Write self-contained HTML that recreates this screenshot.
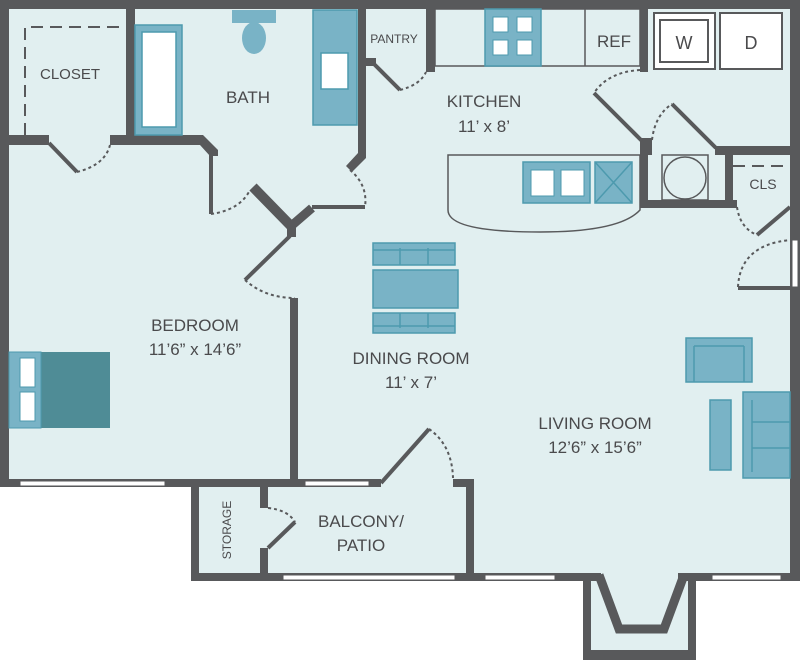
<!DOCTYPE html>
<html><head><meta charset="utf-8"><style>
html,body{margin:0;padding:0;background:#fff;width:800px;height:660px;overflow:hidden}
text{font-family:"Liberation Sans",sans-serif;fill:#4a4a4c}
</style></head><body>
<svg width="800" height="660" viewBox="0 0 800 660" xmlns="http://www.w3.org/2000/svg">
<polygon points="0,0 800,0 800,580 696,580 696,660 583,660 583,580 191,580 191,487 0,487" fill="#e1eff0"/>
<g fill="#58595b">
<rect x="0" y="0" width="800" height="9"/>
<rect x="0" y="0" width="9" height="487"/>
<rect x="790" y="0" width="10" height="581"/>
<rect x="0" y="479" width="297" height="8"/>
<rect x="191" y="479" width="8" height="102"/>
<rect x="191" y="573" width="410" height="8"/>
<rect x="678" y="573" width="122" height="8"/>
<rect x="583" y="573" width="8" height="87"/>
<rect x="688" y="573" width="8" height="87"/>
<rect x="583" y="650" width="113" height="10"/>
<rect x="126" y="0" width="9" height="140"/>
<rect x="0" y="135" width="49" height="10"/>
<polygon points="110,135 203,135 218,150 218,156 210,156 200,145 110,145"/>
<rect x="358" y="0" width="8" height="158"/>
<polygon points="358,153 366,158 352,172 346,166"/>
<rect x="260" y="487" width="8" height="21"/>
<rect x="260" y="548" width="8" height="25"/>
<rect x="290" y="298" width="8" height="183"/>
<rect x="287" y="222" width="9" height="15"/>
<rect x="297" y="479" width="84" height="8"/>
<rect x="453" y="479" width="21" height="8"/>
<rect x="466" y="479" width="8" height="102"/>
<rect x="426" y="0" width="9" height="72"/>
<rect x="640" y="0" width="8" height="72"/>
<rect x="640" y="138" width="12" height="17"/>
<rect x="640" y="148" width="8" height="60"/>
<rect x="640" y="200" width="97" height="8"/>
<rect x="725" y="148" width="8" height="60"/>
<rect x="715" y="146" width="80" height="9"/>
<rect x="362" y="58" width="14" height="8"/>
</g>
<path d="M599,575 L619,629 H664 L684,575" fill="none" stroke="#58595b" stroke-width="9" stroke-linejoin="miter"/>
<g stroke="#58595b" fill="none">
<line x1="253" y1="187" x2="292" y2="227" stroke-width="10"/>
<line x1="290" y1="227" x2="312" y2="208" stroke-width="9"/>
<line x1="312" y1="207" x2="365" y2="207" stroke-width="4"/>
<line x1="211" y1="150" x2="211" y2="214" stroke-width="4"/>
<line x1="290" y1="236" x2="245" y2="280" stroke-width="4"/>
<line x1="49" y1="143" x2="77" y2="172" stroke-width="4"/>
<line x1="374" y1="64" x2="400" y2="90" stroke-width="4"/>
<line x1="594" y1="93" x2="642" y2="141" stroke-width="4"/>
<line x1="672" y1="104" x2="716" y2="148" stroke-width="4"/>
<line x1="790" y1="207" x2="757" y2="235" stroke-width="4"/>
<line x1="738" y1="288" x2="790" y2="288" stroke-width="4"/>
<line x1="268" y1="548" x2="295" y2="522" stroke-width="4"/>
<line x1="381" y1="483" x2="429" y2="429" stroke-width="4"/>
</g>
<g stroke="#58595b" stroke-width="2" fill="none" stroke-dasharray="3,3">
<path d="M77,172 Q105,165 110,145"/>
<path d="M211,214 Q240,210 250,190"/>
<path d="M350,170 Q368,185 365,207"/>
<path d="M245,280 Q265,298 295,298"/>
<path d="M400,90 Q420,85 426,72"/>
<path d="M640,70 Q608,72 594,93"/>
<path d="M652,140 Q655,115 672,104"/>
<path d="M737,207 Q740,228 757,235"/>
<path d="M738,287 Q740,245 790,240"/>
<path d="M268,508 Q288,510 295,522"/>
<path d="M429,429 Q452,445 453,478"/>
</g>
<g stroke="#58595b" stroke-width="2" fill="none" stroke-dasharray="12,7">
<path d="M25,135 V27 H126"/>
<path d="M733,166 H790"/>
</g>
<g fill="#fff" stroke="#58595b" stroke-width="1">
<rect x="20" y="481" width="145" height="5"/>
<rect x="305" y="481" width="64" height="5"/>
<rect x="283" y="575" width="172" height="5"/>
<rect x="485" y="575" width="70" height="5"/>
<rect x="712" y="575" width="69" height="5"/>
<rect x="792" y="240" width="6" height="47"/>
</g>
<rect x="435" y="9" width="205" height="57" fill="none" stroke="#58595b" stroke-width="1.5"/>
<line x1="585" y1="9" x2="585" y2="66" stroke="#58595b" stroke-width="1.5"/>
<rect x="485" y="9" width="56" height="57" fill="#79b3c6" stroke="#4d9aae" stroke-width="1.5"/>
<g fill="#fff" stroke="#4d9aae"><rect x="493" y="17" width="15" height="15"/><rect x="517" y="17" width="15" height="15"/><rect x="493" y="40" width="15" height="15"/><rect x="517" y="40" width="15" height="15"/></g>
<rect x="654" y="13" width="61" height="56" fill="#fff" stroke="#58595b" stroke-width="2"/>
<rect x="660" y="20" width="48" height="42" fill="#fff" stroke="#58595b" stroke-width="2"/>
<rect x="720" y="13" width="62" height="56" fill="#fff" stroke="#58595b" stroke-width="2"/>
<rect x="662" y="155" width="46" height="45" fill="none" stroke="#58595b" stroke-width="1.5"/>
<circle cx="685" cy="178" r="21" fill="none" stroke="#58595b" stroke-width="1.5"/>
<path d="M448,155 H640 V210 Q620,232 540,232 Q448,232 448,210 Z" fill="none" stroke="#58595b" stroke-width="1.5"/>
<rect x="523" y="162" width="67" height="41" fill="#79b3c6" stroke="#4d9aae" stroke-width="1.5"/>
<rect x="531" y="170" width="23" height="26" fill="#fff" stroke="#4d9aae"/>
<rect x="561" y="170" width="23" height="26" fill="#fff" stroke="#4d9aae"/>
<rect x="595" y="162" width="37" height="41" fill="#79b3c6" stroke="#4d9aae" stroke-width="1.5"/>
<path d="M595,162 L632,203 M632,162 L595,203" stroke="#4d9aae" stroke-width="1.5"/>
<rect x="135" y="25" width="47" height="110" fill="#79b3c6" stroke="#4d9aae" stroke-width="1.5"/>
<rect x="142" y="32" width="34" height="95" fill="#fff" stroke="#4d9aae" stroke-width="1.5"/>
<rect x="232" y="10" width="44" height="13" fill="#79b3c6"/>
<ellipse cx="254" cy="38" rx="12" ry="16" fill="#79b3c6"/>
<rect x="313" y="10" width="44" height="115" fill="#79b3c6" stroke="#4d9aae" stroke-width="1.5"/>
<rect x="321" y="53" width="27" height="36" fill="#fff" stroke="#4d9aae" stroke-width="1.5"/>
<rect x="9" y="352" width="101" height="76" fill="#4f8c96"/>
<rect x="9" y="352" width="32" height="76" fill="#79b3c6" stroke="#4d9aae"/>
<rect x="20" y="358" width="15" height="29" fill="#fff" stroke="#4d9aae"/>
<rect x="20" y="392" width="15" height="29" fill="#fff" stroke="#4d9aae"/>
<g fill="#79b3c6" stroke="#4d9aae" stroke-width="1.5">
<rect x="373" y="243" width="82" height="22"/>
<rect x="373" y="270" width="85" height="38"/>
<rect x="373" y="313" width="82" height="20"/>
<rect x="686" y="338" width="66" height="44"/>
<rect x="710" y="400" width="21" height="70"/>
<rect x="743" y="392" width="47" height="86"/>
</g>
<g stroke="#4d9aae" stroke-width="1.5">
<line x1="400" y1="248" x2="400" y2="265"/><line x1="428" y1="248" x2="428" y2="265"/><line x1="373" y1="250" x2="455" y2="250"/>
<line x1="400" y1="313" x2="400" y2="328"/><line x1="428" y1="313" x2="428" y2="328"/><line x1="373" y1="326" x2="455" y2="326"/>
<line x1="752" y1="400" x2="752" y2="472"/><line x1="752" y1="422" x2="790" y2="422"/><line x1="752" y1="448" x2="790" y2="448"/>
<line x1="694" y1="346" x2="744" y2="346"/><line x1="694" y1="346" x2="694" y2="382"/><line x1="744" y1="346" x2="744" y2="382"/>
</g>
<g font-size="16" text-anchor="middle">
<text x="70" y="79" font-size="15">CLOSET</text>
<text x="248" y="103" font-size="17">BATH</text>
<text x="394" y="43" font-size="12">PANTRY</text>
<text x="614" y="47" font-size="17">REF</text>
<text x="684" y="49" font-size="18">W</text>
<text x="751" y="49" font-size="18">D</text>
<text x="484" y="107" font-size="17">KITCHEN</text>
<text x="484" y="132" font-size="17">11’ x 8’</text>
<text x="763" y="189" font-size="14">CLS</text>
<text x="195" y="331" font-size="17">BEDROOM</text>
<text x="195" y="355" font-size="17">11’6” x 14’6”</text>
<text x="411" y="364" font-size="17">DINING ROOM</text>
<text x="411" y="388" font-size="17">11’ x 7’</text>
<text x="595" y="429" font-size="17">LIVING ROOM</text>
<text x="595" y="453" font-size="17">12’6” x 15’6”</text>
<text x="361" y="527" font-size="17">BALCONY/</text>
<text x="361" y="551" font-size="17">PATIO</text>
<text x="0" y="0" font-size="12" transform="translate(231,530) rotate(-90)">STORAGE</text>
</g>
</svg>
</body></html>
